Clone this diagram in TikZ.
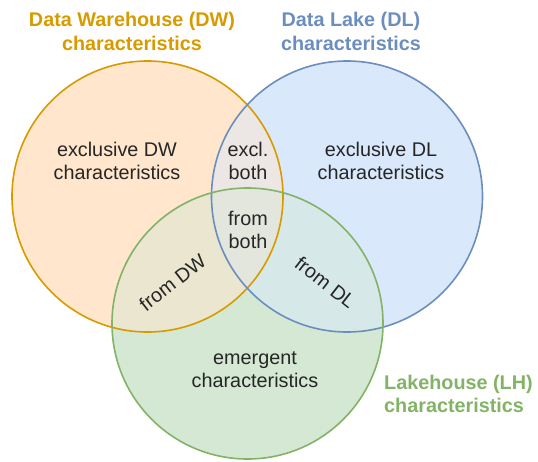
\documentclass[tikz,border=0pt]{standalone}
\usepackage{fontspec}
\setmainfont{Liberation Sans}
\definecolor{dwfill}{HTML}{FFE6CC}
\definecolor{dlfill}{HTML}{DAE8FC}
\definecolor{lhfill}{HTML}{D5E8D4}
\definecolor{dwdl}{HTML}{ECE7E4}
\definecolor{dwlh}{HTML}{EAE6CF}
\definecolor{dllh}{HTML}{D7E8E8}
\definecolor{allthree}{HTML}{E3E6DD}
\definecolor{dwline}{HTML}{D79B00}
\definecolor{dlline}{HTML}{6C8EBF}
\definecolor{lhline}{HTML}{82B366}
\tikzset{
  circline/.style={line width=1.6pt},
  lbl/.style={font=\fontsize{19.8}{23.5}\selectfont, align=center, inner sep=0pt, text=black!85},
  ttl/.style={font=\fontsize{19.8}{23.5}\selectfont\bfseries, align=center, inner sep=0pt},
}
\begin{document}
\begin{tikzpicture}[x=1pt,y=-1pt]
\useasboundingbox (0,0) rectangle (538,461);
\coordinate (dw) at (147.5,196.5);
\coordinate (dl) at (347,196.5);
\coordinate (lh) at (247.5,323.5);
\def\rr{135.5pt}
% base fills
\fill[dwfill] (dw) circle[radius=\rr];
\fill[dlfill] (dl) circle[radius=\rr];
\fill[lhfill] (lh) circle[radius=\rr];
% overlaps
\begin{scope}
  \clip (dw) circle[radius=\rr];
  \fill[dwdl] (dl) circle[radius=\rr];
  \fill[dwlh] (lh) circle[radius=\rr];
\end{scope}
\begin{scope}
  \clip (dl) circle[radius=\rr];
  \fill[dllh] (lh) circle[radius=\rr];
\end{scope}
\begin{scope}
  \clip (dw) circle[radius=\rr];
  \clip (dl) circle[radius=\rr];
  \fill[allthree] (lh) circle[radius=\rr];
\end{scope}
% outlines
\draw[circline, dwline] (dw) circle[radius=\rr];
\draw[circline, dlline] (dl) circle[radius=\rr];
\draw[circline, lhline] (lh) circle[radius=\rr];
% titles
\node[ttl, text=dwline] (tdw) at (132,31.5) {Data Warehouse (DW)\\characteristics};
\node[ttl, text=dlline] (tdl) at (351,31.5) {Data Lake (DL)\\characteristics};
\node[ttl, text=lhline, align=left, anchor=west] (tlh) at (384,394) {Lakehouse (LH)\\characteristics};
% region labels
\node[lbl] (exdw) at (117,161) {exclusive DW\\characteristics};
\node[lbl] (exboth) at (248,161) {excl.\\both};
\node[lbl] (exdl) at (381,161) {exclusive DL\\characteristics};
\node[lbl] (fboth) at (248,230) {from\\both};
\node[lbl, rotate=38] (fdw) at (172.5,282.5) {from DW};
\node[lbl, rotate=-38] (fdl) at (325.5,282.5) {from DL};
\node[lbl] (emerg) at (255,369.5) {emergent\\characteristics};
\end{tikzpicture}
\end{document}
